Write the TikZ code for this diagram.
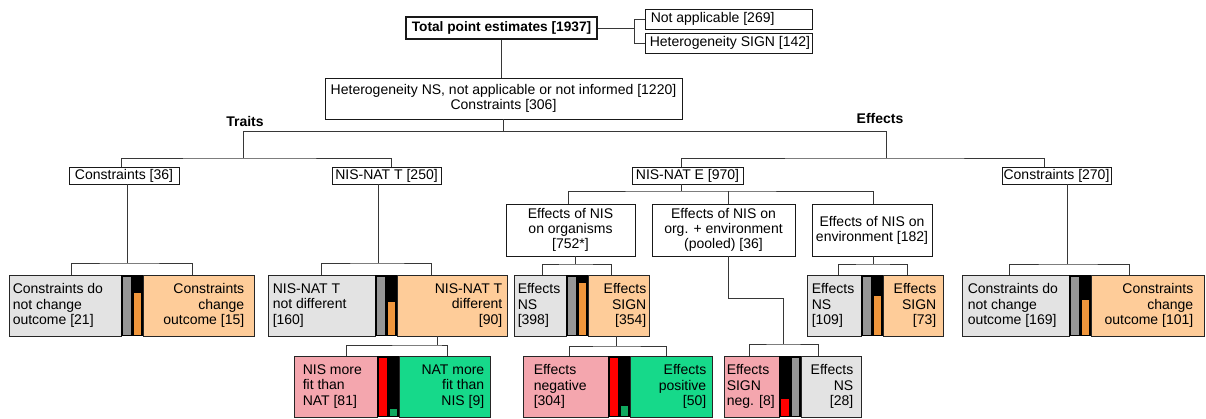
\documentclass[tikz,border=0pt]{standalone}
\usepackage{fontspec}
\setmainfont{Liberation Sans}
\definecolor{gfill}{RGB}{227,227,227}
\definecolor{ofill}{RGB}{254,204,153}
\definecolor{pfill}{RGB}{244,166,174}
\definecolor{grfill}{RGB}{22,217,138}
\definecolor{gbar}{RGB}{150,150,150}
\definecolor{obar}{RGB}{240,150,60}
\definecolor{rbar}{RGB}{255,0,0}
\definecolor{grbar}{RGB}{16,168,95}
\definecolor{lnc}{RGB}{55,55,55}
\newcommand{\fs}{\fontsize{14}{15.2}\selectfont}
\newcommand{\mybars}[7]{%
  \fill[black] (#1,#2) rectangle ({#1+22},#3);
  \fill[#4] ({#1+1.5},{#3-1.5}) rectangle ({#1+9.5},{#3-1.5-(#5)*(#3-#2-3)});
  \fill[#6] ({#1+12.5},{#3-1.5}) rectangle ({#1+20},{#3-1.5-(#7)*(#3-#2-3)});
}
\tikzset{
  box/.style={draw=black!90, line width=0.9pt, inner sep=0pt, align=center, font=\fs, fill=white},
  bbox/.style={draw=black!85, line width=0.9pt, inner sep=0pt},
  ltx/.style={inner sep=0pt, align=left, font=\fs, anchor=west},
  rtx/.style={inner sep=0pt, align=right, font=\fs, anchor=east},
  lab/.style={inner sep=0pt, font=\bfseries\fs},
  conn/.style={draw=lnc, line width=1pt},
}
\begin{document}
\begin{tikzpicture}[x=1pt,y=-1pt]
\useasboundingbox (0,0) rectangle (1206,418);

% top
\node[box, line width=1.8pt, font=\bfseries\fontsize{13.7}{15}\selectfont, minimum width=191pt, minimum height=22pt] (tot) at (501.5,28) {Total point estimates [1937]};
\node[box, minimum width=167pt, minimum height=20pt] (na) at (728.5,19) {};
\node[ltx] (nat) at ([xshift=6pt]na.west) {Not applicable [269]};
\node[box, minimum width=167pt, minimum height=20pt] (hs) at (728.5,43) {};
\node[ltx] (hst) at ([xshift=5pt]hs.west) {Heterogeneity SIGN [142]};
\node[box, minimum width=357pt, minimum height=41pt] (het) at (503.5,98.5) {Heterogeneity NS, not applicable or not informed [1220]\\Constraints [306]};
\node[lab] (traits) at (245,121) {Traits};
\node[lab] (effects) at (880,118) {Effects};

\node[box, minimum width=110pt, minimum height=17pt] (c36) at (124,175.5) {Constraints [36]};
\node[box, minimum width=109pt, minimum height=17pt] (nt) at (386.5,175.5) {NIS-NAT T [250]};
\node[box, minimum width=111pt, minimum height=17pt] (nate) at (687.5,175.5) {NIS-NAT E [970]};
\node[box, minimum width=109pt, minimum height=17pt] (c270) at (1056.5,175.5) {Constraints [270]};

\node[box, minimum width=129pt, minimum height=52pt] (org) at (570.5,230) {Effects of NIS\\on organisms\\{}[752*]};
\node[box, minimum width=143pt, minimum height=52pt] (pool) at (723.5,230) {Effects of NIS on\\org. + environment\\(pooled) [36]};
\node[box, minimum width=120pt, minimum height=52pt] (env) at (872,230) {Effects of NIS on\\environment [182]};

% Pair A
\node[bbox, fill=gfill, minimum width=112pt, minimum height=61pt] (Al) at (65,305.5) {};
\node[bbox, fill=ofill, minimum width=111pt, minimum height=61pt] (Ar) at (198.5,305.5) {};
\mybars{121}{275}{336}{gbar}{1}{obar}{0.714}
\node[ltx] (Alt) at ([xshift=4pt]Al.west) {Constraints do\\not change\\outcome [21]};
\node[rtx] (Art) at ([xshift=-10pt]Ar.east) {Constraints\\change\\outcome [15]};

% Pair B
\node[bbox, fill=gfill, minimum width=107pt, minimum height=61pt] (Bl) at (321.5,305.5) {};
\node[bbox, fill=ofill, minimum width=110pt, minimum height=61pt] (Br) at (452,305.5) {};
\mybars{375}{275}{336}{gbar}{1}{obar}{0.5625}
\node[ltx] (Blt) at ([xshift=5pt]Bl.west) {NIS-NAT T\\not different\\{}[160]};
\node[rtx] (Brt) at ([xshift=-5pt]Br.east) {NIS-NAT T\\different\\{}[90]};

% Pair C
\node[bbox, fill=gfill, minimum width=52pt, minimum height=61pt] (Cl) at (540,305.5) {};
\node[bbox, fill=ofill, minimum width=61pt, minimum height=61pt] (Cr) at (618.5,305.5) {};
\mybars{566}{275}{336}{gbar}{1}{obar}{0.889}
\node[ltx] (Clt) at ([xshift=4pt]Cl.west) {Effects\\NS\\{}[398]};
\node[rtx] (Crt) at ([xshift=-3pt]Cr.east) {Effects\\SIGN\\{}[354]};

% Pair D
\node[bbox, fill=gfill, minimum width=54pt, minimum height=61pt] (Dl) at (834,305.5) {};
\node[bbox, fill=ofill, minimum width=60pt, minimum height=61pt] (Dr) at (913,305.5) {};
\mybars{861}{275}{336}{gbar}{1}{obar}{0.67}
\node[ltx] (Dlt) at ([xshift=5pt]Dl.west) {Effects\\NS\\{}[109]};
\node[rtx] (Drt) at ([xshift=-7pt]Dr.east) {Effects\\SIGN\\{}[73]};

% Pair E
\node[bbox, fill=gfill, minimum width=107pt, minimum height=61pt] (El) at (1015.5,305.5) {};
\node[bbox, fill=ofill, minimum width=113pt, minimum height=61pt] (Er) at (1147.5,305.5) {};
\mybars{1069}{275}{336}{gbar}{1}{obar}{0.598}
\node[ltx] (Elt) at ([xshift=6pt]El.west) {Constraints do\\not change\\outcome [169]};
\node[rtx] (Ert) at ([xshift=-11pt]Er.east) {Constraints\\change\\outcome [101]};

% Pair F
\node[bbox, fill=pfill, minimum width=83pt, minimum height=61pt] (Fl) at (335.5,386.5) {};
\node[bbox, fill=grfill, minimum width=91pt, minimum height=61pt] (Fr) at (444.5,386.5) {};
\mybars{377}{356}{417}{rbar}{1}{grbar}{0.111}
\node[ltx] (Flt) at ([xshift=9pt]Fl.west) {NIS more\\fit than\\NAT [81]};
\node[rtx] (Frt) at ([xshift=-6pt]Fr.east) {NAT more\\fit than\\NIS [9]};

% Pair G
\node[bbox, fill=pfill, minimum width=85pt, minimum height=61pt] (Gl) at (565.5,386.5) {};
\node[bbox, fill=grfill, minimum width=82pt, minimum height=61pt] (Gr) at (671,386.5) {};
\mybars{608}{356}{417}{rbar}{1}{grbar}{0.164}
\node[ltx] (Glt) at ([xshift=11pt]Gl.west) {Effects\\negative\\{}[304]};
\node[rtx] (Grt) at ([xshift=-6pt]Gr.east) {Effects\\positive\\{}[50]};

% Pair H
\node[bbox, fill=pfill, minimum width=55pt, minimum height=61pt] (Hl) at (751.5,386.5) {};
\node[bbox, fill=gfill, minimum width=60pt, minimum height=61pt] (Hr) at (831,386.5) {};
\mybars{779}{356}{417}{rbar}{0.286}{gbar}{1}
\node[ltx] (Hlt) at ([xshift=3pt]Hl.west) {Effects\\SIGN\\neg. [8]};
\node[rtx] (Hrt) at ([xshift=-8pt]Hr.east) {Effects\\NS\\{}[28]};

% connectors
\coordinate (bk) at (634,28);
\draw[conn] (tot.south) -- (tot.south |- het.north);
\draw[conn] (tot.east) -- (bk);
\draw[conn] (na.west) -| (bk) |- (hs.west);

\coordinate (tj) at (243,131);
\coordinate (ej) at (886,131);
\coordinate (tj2) at (243,158);
\coordinate (ej2) at (886,158);
\draw[conn] (het.south) -- (het.south |- tj);
\draw[conn] (tj) -- (ej);
\draw[conn] (tj) -- (tj2);
\draw[conn] (ej) -- (ej2);
\draw[conn] ([xshift=-3pt]c36.north) |- (tj2) -| ([xshift=4.5pt]nt.north);
\draw[conn] ([xshift=-6.5pt]nate.north) |- (ej2) -| ([xshift=-12.5pt]c270.north);

\coordinate (jA) at (127,263);
\draw[conn] ([xshift=3pt]c36.south) -- (jA);
\draw[conn] ([xshift=6pt]Al.north) |- (jA) -| ([xshift=-6.5pt]Ar.north);

\coordinate (jB) at (378,263);
\draw[conn] ([xshift=-8.5pt]nt.south) -- (jB);
\draw[conn] ([xshift=-0.5pt]Bl.north) |- (jB) -| ([xshift=-21pt]Br.north);

\coordinate (jF) at (437,345);
\draw[conn] ([xshift=-15pt]Br.south) -- (jF);
\draw[conn] ([xshift=10.5pt]Fl.north) |- (jF) -| ([xshift=2.5pt]Fr.north);

\coordinate (jE) at (681,191);
\draw[conn] ([xshift=-6.5pt]nate.south) -- (jE);
\draw[conn] ([xshift=-2.5pt]org.north) |- (jE) -| ([xshift=1pt]env.north);
\draw[conn] ([xshift=4.5pt]pool.north) -- ([xshift=4.5pt]pool.north |- jE);

\coordinate (jC) at (575,264);
\draw[conn] ([xshift=4.5pt]org.south) -- (jC);
\draw[conn] ([xshift=2pt]Cl.north) |- (jC) -| ([xshift=-7.5pt]Cr.north);

\coordinate (jG) at (616,346);
\draw[conn] ([xshift=-2.5pt]Cr.south) -- (jG);
\draw[conn] ([xshift=3.5pt]Gl.north) |- (jG) -| ([xshift=-5pt]Gr.north);

\coordinate (pk) at (728,298);
\coordinate (jH) at (783,344);
\draw[conn] ([xshift=4.5pt]pool.south) -- (pk) -| (jH);
\draw[conn] ([xshift=-2.5pt]Hl.north) |- (jH) -| ([xshift=-13pt]Hr.north);

\coordinate (jD) at (873,264);
\draw[conn] ([xshift=1pt]env.south) -- (jD);
\draw[conn] ([xshift=4pt]Dl.north) |- (jD) -| ([xshift=-6pt]Dr.north);

\coordinate (jEE) at (1067,264);
\draw[conn] ([xshift=10.5pt]c270.south) -- (jEE);
\draw[conn] ([xshift=-6.5pt]El.north) |- (jEE) -| ([xshift=-18.5pt]Er.north);
\end{tikzpicture}
\end{document}
